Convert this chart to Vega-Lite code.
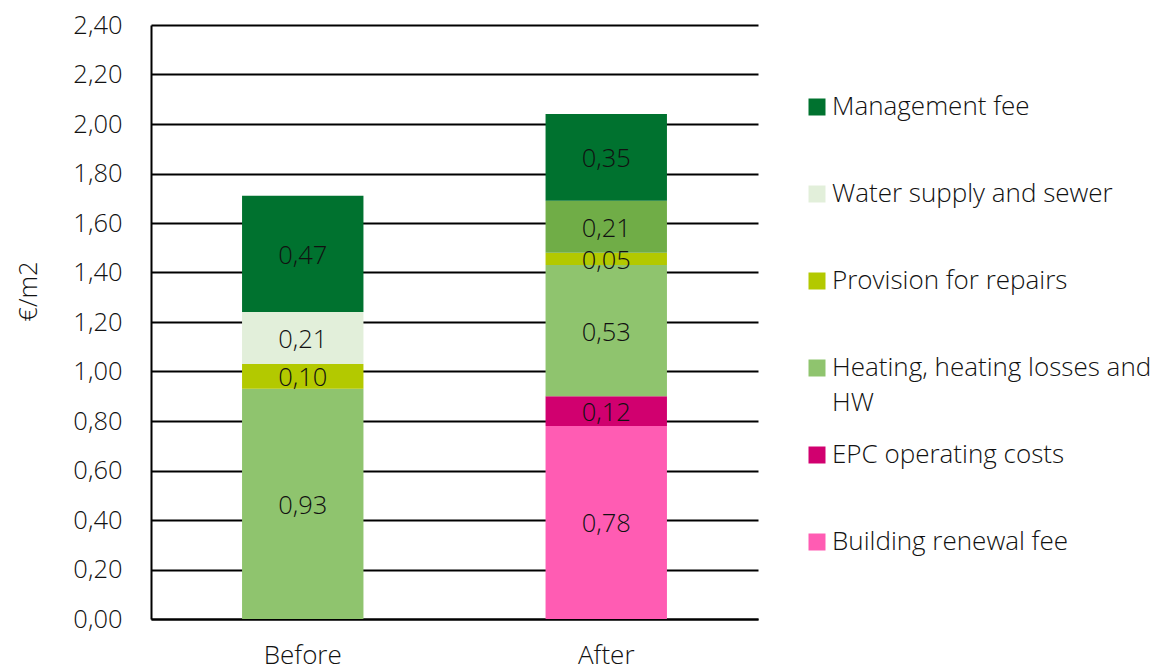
{
  "$schema": "https://vega.github.io/schema/vega-lite/v6.json",
  "width": 607,
  "height": 594,
  "autosize": {"type": "none"},
  "padding": {"left": 151, "top": 25, "right": 405, "bottom": 51},
  "data": {
    "values": [
      {"period": "Before", "series": "Heating, heating losses and HW", "colorKey": "Heating, heating losses and HW", "value": 0.93, "ord": 3},
      {"period": "Before", "series": "Provision for repairs", "colorKey": "Provision for repairs", "value": 0.10, "ord": 4},
      {"period": "Before", "series": "Water supply and sewer", "colorKey": "Water supply and sewer", "value": 0.21, "ord": 5},
      {"period": "Before", "series": "Management fee", "colorKey": "Management fee", "value": 0.47, "ord": 6},
      {"period": "After", "series": "Building renewal fee", "colorKey": "Building renewal fee", "value": 0.78, "ord": 1},
      {"period": "After", "series": "EPC operating costs", "colorKey": "EPC operating costs", "value": 0.12, "ord": 2},
      {"period": "After", "series": "Heating, heating losses and HW", "colorKey": "Heating, heating losses and HW", "value": 0.53, "ord": 3},
      {"period": "After", "series": "Provision for repairs", "colorKey": "Provision for repairs", "value": 0.05, "ord": 4},
      {"period": "After", "series": "Water supply and sewer", "colorKey": "Water supply and sewer (After)", "value": 0.21, "ord": 5},
      {"period": "After", "series": "Management fee", "colorKey": "Management fee", "value": 0.35, "ord": 6}
    ]
  },
  "transform": [
    {"stack": "value", "groupby": ["period"], "sort": [{"field": "ord", "order": "ascending"}], "as": ["v0", "v1"]},
    {"calculate": "(datum.v0 + datum.v1) / 2", "as": "mid"}
  ],
  "encoding": {
    "x": {
      "field": "period",
      "type": "nominal",
      "sort": ["Before", "After"],
      "scale": {"paddingInner": 0.6, "paddingOuter": 0.3},
      "axis": {
        "title": null,
        "labelAngle": 0,
        "ticks": false,
        "domainColor": "#000000",
        "domainWidth": 2,
        "labelPadding": 23,
        "labelFontSize": 26,
        "labelFont": "Open Sans",
        "labelFontWeight": 300,
        "labelColor": "#111111"
      }
    }
  },
  "layer": [
    {
      "mark": {"type": "bar"},
      "encoding": {
        "y": {
          "field": "v0",
          "type": "quantitative",
          "scale": {"domain": [0, 2.4], "nice": false},
          "axis": {
            "values": [0, 0.2, 0.4, 0.6, 0.8, 1.0, 1.2, 1.4, 1.6, 1.8, 2.0, 2.2, 2.4],
            "format": ".2f",
            "ticks": false,
            "labelPadding": 29,
            "labelFontSize": 25.5,
            "labelFont": "Open Sans",
            "labelFontWeight": 300,
            "labelColor": "#111111",
            "domainColor": "#000000",
            "domainWidth": 2,
            "grid": true,
            "gridColor": "#000000",
            "gridWidth": 2,
            "gridOpacity": 1,
            "title": "€/m2",
            "titleFont": "Open Sans",
            "titleFontWeight": 300,
            "titleFontSize": 25.5,
            "titleColor": "#111111",
            "titleX": -110,
            "titleY": 266
          }
        },
        "y2": {"field": "v1"},
        "order": {"field": "ord", "type": "quantitative"},
        "color": {
          "field": "colorKey",
          "type": "nominal",
          "scale": {
            "domain": ["Management fee", "Water supply and sewer", "Provision for repairs", "Heating, heating losses and HW", "EPC operating costs", "Building renewal fee", "Water supply and sewer (After)"],
            "range": ["#00722F", "#E2EFDA", "#B3C900", "#8FC46E", "#D1006F", "#FF5CB3", "#70AD47"]
          },
          "legend": {
            "values": ["Management fee", "Water supply and sewer", "Provision for repairs", "Heating, heating losses and HW", "EPC operating costs", "Building renewal fee"],
            "title": null,
            "orient": "none",
            "legendX": 653,
            "legendY": 69,
            "padding": 0,
            "gridAlign": "all",
            "symbolType": "square",
            "symbolSize": 289,
            "symbolStrokeWidth": 0,
            "labelFontSize": 26,
            "labelFont": "Open Sans",
            "labelFontWeight": 300,
            "labelColor": "#111111",
            "labelOffset": 2,
            "labelLimit": 400,
            "rowPadding": 26,
            "labelExpr": "datum.label == 'Heating, heating losses and HW' ? ['Heating, heating losses and', 'HW'] : datum.label",
            "encode": {"labels": {"update": {"lineHeight": {"value": 35}}}}
          }
        }
      }
    },
    {
      "mark": {"type": "text", "font": "Open Sans", "fontWeight": 300, "fontSize": 25.5, "color": "#111111", "baseline": "middle", "dy": 2},
      "encoding": {
        "y": {"field": "mid", "type": "quantitative"},
        "text": {"field": "value", "type": "quantitative", "format": ".2f"}
      }
    }
  ],
  "config": {
    "locale": {"number": {"decimal": ",", "thousands": " ", "grouping": [3], "currency": ["", " €"]}},
    "view": {"stroke": null},
    "font": "Open Sans"
  }
}
